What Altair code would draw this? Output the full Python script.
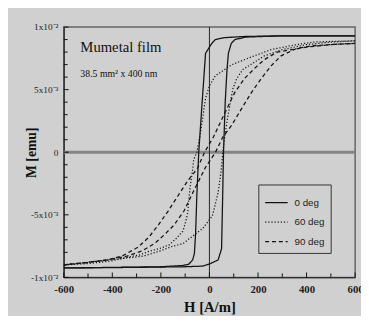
import altair as alt
import pandas as pd

# ---- data (M in units of 1e-3 emu, H in A/m) ----
solid_desc_H = [600, 300, 150, 100, 60, 24, 10, 0, -16, -30, -44, -52, -57, -62, -69, -85, -110, -200, -600]
solid_desc_M = [9.3, 9.3, 9.25, 9.2, 9.15, 9.0, 8.7, 8.4, 7.9, 4.0, 0.0, -3.5, -6.5, -8.1, -8.6, -8.95, -9.05, -9.15, -9.25]
solid_asc_H = [-600, -300, -100, -28, 4, 36, 50, 54, 58, 65, 72, 78, 90, 105, 150, 300, 600]
solid_asc_M = [-9.25, -9.2, -9.15, -9.1, -8.9, -8.6, -7.7, -4.0, 0.0, 4.0, 6.5, 7.9, 8.7, 9.0, 9.2, 9.3, 9.3]

dot_desc_H = [600, 500, 428, 360, 254, 158, 93, 24, 0, -16, -28, -40, -52, -65, -69, -77, -85, -89, -97, -109, -137, -166, -206, -246, -287, -339, -408, -500, -600]
dot_desc_M = [8.9, 8.85, 8.8, 8.6, 8.2, 7.5, 7.0, 6.1, 5.3, 4.3, 2.7, 1.2, 0.0, -0.6, -1.4, -2.4, -3.75, -4.8, -5.5, -6.3, -6.9, -7.4, -7.7, -7.9, -8.2, -8.4, -8.7, -8.9, -9.0]
dot_asc_H = [-600, -500, -408, -340, -271, -206, -150, -109, -69, -28, 12, 36, 48, 55, 65, 77, 97, 113, 137, 186, 226, 300, 400, 500, 600]
dot_asc_M = [-9.0, -8.8, -8.6, -8.45, -8.3, -7.9, -7.5, -7.3, -6.7, -6.1, -5.1, -3.2, -1.5, 0.0, 1.5, 3.0, 5.1, 5.9, 6.6, 7.2, 7.7, 8.2, 8.6, 8.8, 8.9]

dash_desc_H = [600, 500, 400, 340, 279, 226, 186, 145, 105, 65, 16, -20, -50, -90, -130, -170, -210, -250, -295, -360, -420, -500, -600]
dash_desc_M = [8.7, 8.6, 8.4, 8.2, 8.0, 7.4, 6.7, 5.9, 4.8, 3.2, 1.2, 0.0, -1.3, -2.3, -3.5, -4.7, -5.8, -6.8, -7.6, -8.3, -8.6, -8.8, -9.0]
dash_asc_H = [-600, -500, -420, -340, -279, -226, -186, -145, -105, -65, -16, 25, 55, 93, 133, 174, 214, 254, 295, 360, 420, 500, 600]
dash_asc_M = [-9.0, -8.8, -8.6, -8.3, -7.9, -7.3, -6.6, -5.8, -4.7, -3.1, -1.2, 0.0, 1.2, 2.2, 3.5, 4.8, 5.9, 6.9, 7.7, 8.3, 8.5, 8.6, 8.7]

series_names = ["0 deg", "60 deg", "90 deg"]
x_major = [-600, -400, -200, 0, 200, 400, 600]
x_minor = [-500, -300, -100, 100, 300, 500]
y_major = [-10, -5, 0, 5, 10]
y_minor = [-9, -8, -7, -6, -4, -3, -2, -1, 1, 2, 3, 4, 6, 7, 8, 9]
title_text = "Mumetal film"
sub_text = "38.5 mm\u00b2 x 400 nm"

rows = []
def add(series, branch, H, M):
    for i, (h, m) in enumerate(zip(H, M)):
        rows.append(dict(series=series, branch=series + branch, i=i, H=h, M=m))

add("0 deg", "d", solid_desc_H, solid_desc_M)
add("0 deg", "a", solid_asc_H, solid_asc_M)
add("60 deg", "d", dot_desc_H, dot_desc_M)
add("60 deg", "a", dot_asc_H, dot_asc_M)
add("90 deg", "d", dash_desc_H, dash_desc_M)
add("90 deg", "a", dash_asc_H, dash_asc_M)
df = pd.DataFrame(rows)

SERIF = "Liberation Serif"
xscale = alt.Scale(domain=[-600, 600], nice=False, zero=False)
yscale = alt.Scale(domain=[-10, 10], nice=False, zero=False)

ylab = ("datum.value == 10 ? '1x10\u207b\u00b2' : datum.value == 5 ? '5x10\u207b\u00b3' : "
        "datum.value == 0 ? '0' : datum.value == -5 ? '-5x10\u207b\u00b3' : '-1x10\u207b\u00b2'")
xlab = "datum.value < 0 ? '-' + abs(datum.value) : '' + datum.value"

xaxis = alt.Axis(values=x_major, labelExpr=xlab, tickSize=0, grid=False, domainColor="#111",
                 labelFont=SERIF, labelFontSize=11, labelFontWeight="bold", labelColor="#222",
                 labelPadding=6, labelFlush=False, labelOverlap=False,
                 title="H [A/m]", titleFont=SERIF, titleFontSize=15, titleFontWeight="bold",
                 titleColor="#111", titleY=30, titleBaseline="middle")
yaxis = alt.Axis(values=y_major, labelExpr=ylab, tickSize=0, grid=False, domainColor="#111",
                 labelFont=SERIF, labelFontSize=9.5, labelColor="#222", labelPadding=6,
                 labelOverlap=False, labelFlush=False,
                 title="M [emu]", titleFont=SERIF, titleFontSize=14, titleFontWeight="bold",
                 titleColor="#111", titleX=-33, titleY=128, titleAngle=270,
                 titleBaseline="middle", titleAlign="center")

zero_h = alt.Chart(pd.DataFrame({"M": [0]})).mark_rule(color="#858585", strokeWidth=3).encode(
    y=alt.Y("M:Q", scale=yscale, axis=yaxis))
zero_v = alt.Chart(pd.DataFrame({"H": [0]})).mark_rule(color="#222", strokeWidth=1).encode(
    x=alt.X("H:Q", scale=xscale, axis=xaxis))

xt_major = alt.Chart(pd.DataFrame({"H": x_major})).mark_rule(color="#111").encode(
    x=alt.X("H:Q", scale=xscale), y=alt.value(256), y2=alt.value(251))
xt_minor = alt.Chart(pd.DataFrame({"H": x_minor})).mark_rule(color="#111").encode(
    x=alt.X("H:Q", scale=xscale), y=alt.value(256), y2=alt.value(252))
yt_major = alt.Chart(pd.DataFrame({"M": y_major})).mark_rule(color="#111").encode(
    y=alt.Y("M:Q", scale=yscale), x=alt.value(0), x2=alt.value(5))
yt_minor = alt.Chart(pd.DataFrame({"M": y_minor})).mark_rule(color="#111").encode(
    y=alt.Y("M:Q", scale=yscale), x=alt.value(0), x2=alt.value(4))

lines = alt.Chart(df).mark_line(strokeWidth=1.3, color="#151515", clip=True).encode(
    x=alt.X("H:Q", scale=xscale, axis=xaxis),
    y=alt.Y("M:Q", scale=yscale, axis=yaxis),
    strokeDash=alt.StrokeDash(
        "series:N",
        scale=alt.Scale(domain=series_names, range=[[1, 0], [1.2, 2], [4, 3]]),
        legend=alt.Legend(title=None, orient="none", legendX=199, legendY=161,
                          strokeColor="#333", padding=6, symbolType="stroke",
                          symbolSize=529, symbolStrokeWidth=1.2, symbolStrokeColor="#111",
                          labelFont="Liberation Sans", labelFontSize=10, labelColor="#222",
                          rowPadding=2, labelOffset=6)),
    detail="branch:N",
    order="i:Q",
)

t1 = alt.Chart(pd.DataFrame({"t": [title_text]})).mark_text(
    font=SERIF, fontSize=15, align="left", baseline="middle", color="#111").encode(
    text="t:N", x=alt.value(17), y=alt.value(21))
t2 = alt.Chart(pd.DataFrame({"t": [sub_text]})).mark_text(
    font=SERIF, fontSize=10, align="left", baseline="middle", color="#111").encode(
    text="t:N", x=alt.value(17), y=alt.value(48))

chart = alt.layer(zero_h, zero_v, xt_major, xt_minor, yt_major, yt_minor, lines, t1, t2).properties(
    width=298, height=256,
    autosize=alt.AutoSizeParams(type="none"),
    padding={"left": 57, "top": 16, "right": 6, "bottom": 36},
    background="#d0d0d0",
).configure_view(stroke="#666", strokeWidth=1.5)

chart.save("out.html", embed_options={"renderer": "svg", "actions": False})
